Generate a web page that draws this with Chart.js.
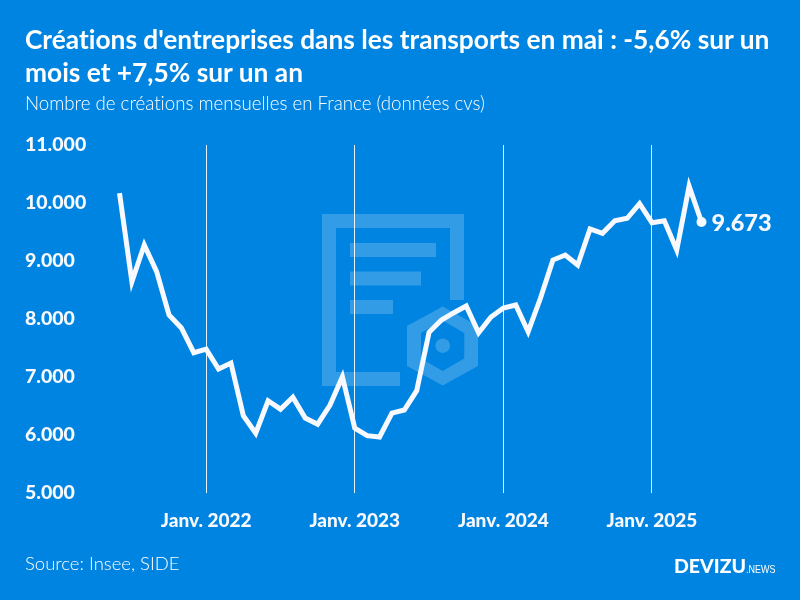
<!DOCTYPE html>
<html lang="fr">
<head>
<meta charset="utf-8">
<title>Créations d'entreprises dans les transports</title>
<script src="https://cdn.jsdelivr.net/npm/chart.js@4"></script>
<style>
    html, body { margin: 0; padding: 0; }
    body { width: 800px; height: 600px; overflow: hidden; background: #0084e1; position: relative; color: #fff; font-family: Lato, sans-serif; font-variant-ligatures: none; }
    #chart, #icon, .txt { position: absolute; }
    #chart { left: 0; top: 0; font-variant-ligatures: none; }
    #icon { left: 0; top: 0; }
    .txt { white-space: nowrap; }
    #title { left: 25px; top: 23px; font-size: 26.3px; font-weight: 700; line-height: 33px; }
    #subtitle { left: 25px; top: 92px; font-size: 18.7px; font-weight: 300; }
    #source { left: 25px; top: 552px; font-size: 18.5px; font-weight: 300; }
    #brand { left: 674px; top: 554px; font-size: 19.5px; font-weight: 900; }
    #brand span { display: inline-block; transform: scaleX(0.78); transform-origin: left; font-family: "Liberation Sans Narrow", sans-serif; font-size: 11.5px; font-weight: 400; }
</style>
</head>
<body>
<svg id="icon" width="800" height="600" fill="#fff" fill-opacity="0.2">
    <path d="M322 214H464V300H450V228H336V372H400V386H322Z"/>
    <rect x="350" y="243" width="86" height="14"/>
    <rect x="350" y="271.500" width="71" height="14"/>
    <rect x="350" y="300" width="43" height="14"/>
    <path fill-rule="evenodd" d="M442.700 306.500L478 326V366L442.700 385.500L407 366V326ZM442.700 320.500L421 333V358.500L442.700 371L464.300 358.500V333Z"/>
    <circle cx="442.700" cy="345.700" r="7.300"/>
</svg>
<canvas id="chart" width="800" height="600"></canvas>
<div class="txt" id="title">Créations d'entreprises dans les transports en mai : -5,6% sur un<br>mois et +7,5% sur un an</div>
<div class="txt" id="subtitle">Nombre de créations mensuelles en France (données cvs)</div>
<div class="txt" id="source">Source: Insee, SIDE</div>
<div class="txt" id="brand">DEVIZU<span>.NEWS</span></div>
<script>
// --- DATA ---
const months = [
    'Juin 2021', 'Juil. 2021', 'Août 2021', 'Sept. 2021', 'Oct. 2021', 'Nov. 2021', 'Déc. 2021',
    'Janv. 2022', 'Févr. 2022', 'Mars 2022', 'Avr. 2022', 'Mai 2022', 'Juin 2022', 'Juil. 2022', 'Août 2022', 'Sept. 2022', 'Oct. 2022', 'Nov. 2022', 'Déc. 2022',
    'Janv. 2023', 'Févr. 2023', 'Mars 2023', 'Avr. 2023', 'Mai 2023', 'Juin 2023', 'Juil. 2023', 'Août 2023', 'Sept. 2023', 'Oct. 2023', 'Nov. 2023', 'Déc. 2023',
    'Janv. 2024', 'Févr. 2024', 'Mars 2024', 'Avr. 2024', 'Mai 2024', 'Juin 2024', 'Juil. 2024', 'Août 2024', 'Sept. 2024', 'Oct. 2024', 'Nov. 2024', 'Déc. 2024',
    'Janv. 2025', 'Févr. 2025', 'Mars 2025', 'Avr. 2025', 'Mai 2025'
];
const creations = [
    10170, 8643, 9276, 8816, 8069, 7845, 7419,
    7480, 7138, 7241, 6333, 6030, 6590, 6445, 6650, 6293, 6186, 6517, 7005,
    6120, 5988, 5966, 6378, 6431, 6764, 7772, 7983, 8109, 8224, 7764, 8034,
    8190, 8241, 7781, 8362, 9017, 9103, 8931, 9552, 9477, 9695, 9736, 9990,
    9660, 9695, 9190, 10290, 9673
];

const WHITE = '#f8f9ff';
const isJanuary = i => months[i].startsWith('Janv.');
const formatFr = v => String(v).replace(/\B(?=(\d{3})+$)/g, '.');

// Label next to the last point
const lastValueLabel = {
    id: 'lastValueLabel',
    afterDatasetsDraw(chart) {
        const pt = chart.getDatasetMeta(0).data[creations.length - 1];
        const ctx = chart.ctx;
        ctx.save();
        ctx.font = '900 23.5px Lato, sans-serif';
        ctx.fillStyle = WHITE;
        ctx.textAlign = 'left';
        ctx.textBaseline = 'middle';
        ctx.fillText(formatFr(creations[creations.length - 1]), pt.x + 10, pt.y + 1);
        ctx.restore();
    }
};

new Chart(document.getElementById('chart'), {
    type: 'line',
    data: {
        labels: months,
        datasets: [{
            data: creations,
            borderColor: WHITE,
            backgroundColor: WHITE,
            borderWidth: 5,
            borderJoinStyle: 'miter',
            borderCapStyle: 'butt',
            tension: 0,
            clip: false,
            pointBorderWidth: 0,
            pointRadius: ctx => ctx.dataIndex === creations.length - 1 ? 5 : 0
        }]
    },
    plugins: [lastValueLabel],
    options: {
        responsive: false,
        animation: false,
        devicePixelRatio: 1,
        layout: { padding: { left: 25, right: 98.5, top: 145, bottom: 60 } },
        plugins: { legend: { display: false }, tooltip: { enabled: false }, title: { display: false } },
        scales: {
            x: {
                type: 'category',
                offset: false,
                afterFit: scale => { scale.height = 47; },
                border: { display: false },
                grid: {
                    drawTicks: false,
                    lineWidth: 1,
                    color: ctx => ctx.index !== undefined && isJanuary(ctx.index) ? 'rgba(255,255,255,0.9)' : 'transparent'
                },
                ticks: {
                    autoSkip: false,
                    maxRotation: 0,
                    padding: 16,
                    color: WHITE,
                    font: { family: 'Lato, sans-serif', size: 19, weight: '900' },
                    callback: function (value, i) { return isJanuary(i) ? months[i] : ''; }
                }
            },
            y: {
                min: 5000,
                max: 11000,
                afterFit: scale => { scale.width = 94.5; },
                border: { display: false },
                grid: { display: false },
                ticks: {
                    stepSize: 1000,
                    crossAlign: 'far',
                    color: WHITE,
                    font: { family: 'Lato, sans-serif', size: 19.5, weight: '900' },
                    callback: v => formatFr(v)
                }
            }
        }
    }
});
</script>
</body>
</html>
